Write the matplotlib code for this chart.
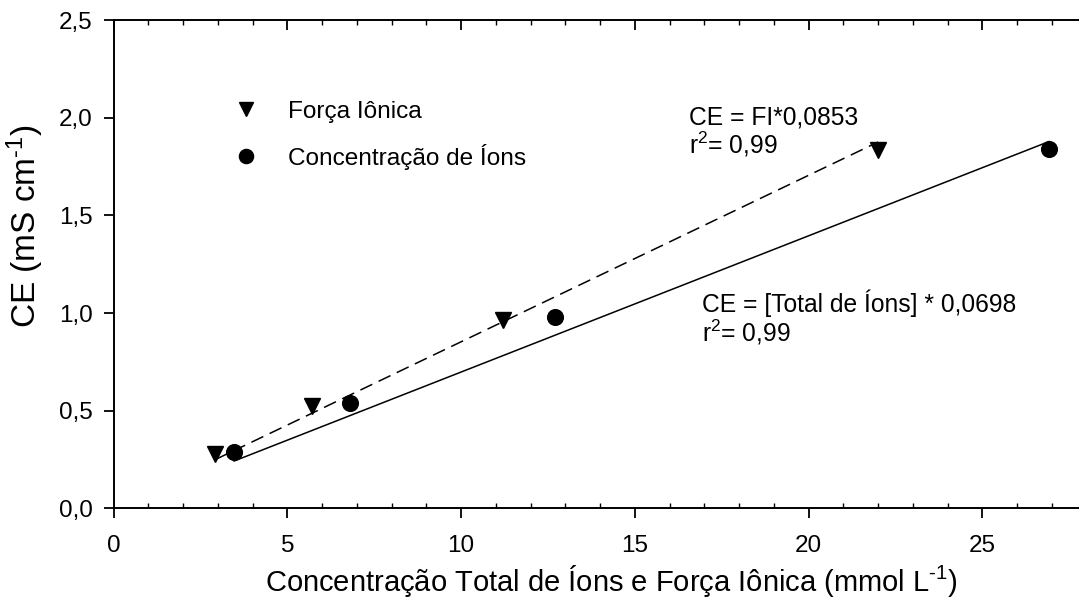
import numpy as np
import matplotlib
matplotlib.use('Agg')
import matplotlib.pyplot as plt
from matplotlib.ticker import MultipleLocator

plt.rcParams['font.family'] = ['Liberation Sans', 'DejaVu Sans']
plt.rcParams['mathtext.fontset'] = 'custom'
plt.rcParams['mathtext.rm'] = 'Liberation Sans'
plt.rcParams['mathtext.it'] = 'Liberation Sans:italic'
plt.rcParams['lines.scale_dashes'] = False

# forca ionica (mmol/L) x CE
fi_x = [2.92, 5.72, 11.2, 22.0]
fi_y = [0.278, 0.525, 0.965, 1.835]
# concentracao total de ions (mmol/L) x CE
ions_x = [3.47, 6.80, 12.7, 26.92]
ions_y = [0.287, 0.538, 0.98, 1.84]

coef_fi = 0.0853
coef_ions = 0.0698

yticks = [0.0, 0.5, 1.0, 1.5, 2.0, 2.5]
ytick_labels = ['0,0', '0,5', '1,0', '1,5', '2,0', '2,5']
xticks = [0, 5, 10, 15, 20, 25]
xtick_labels = ['0', '5', '10', '15', '20', '25']

fig = plt.figure(figsize=(10.79, 6.04), dpi=100)
ax = fig.add_axes([0.1053, 0.1585, 0.9018, 0.8079])

# retas ajustadas
xf = np.array([fi_x[0], fi_x[-1]])
xi = np.array([ions_x[0], ions_x[-1]])
ax.plot(xf, coef_fi * xf, color='black', lw=1.1, dashes=(9.5, 5.0))
ax.plot(xi, coef_ions * xi, color='black', lw=1.1)

ax.plot(fi_x, fi_y, linestyle='none', marker='v', ms=11.5, color='black',
        label='Força Iônica')
ax.plot(ions_x, ions_y, linestyle='none', marker='o', ms=11.3, color='black',
        label='Concentração de Íons')

ax.set_xlim(0, 28)
ax.set_ylim(0, 2.5)

ax.set_xticks(xticks)
ax.set_xticklabels(xtick_labels)
ax.xaxis.set_minor_locator(MultipleLocator(1))
ax.set_yticks(yticks)
ax.set_yticklabels(ytick_labels)

for side in ['top', 'right']:
    ax.spines[side].set_visible(False)
for side in ['left', 'bottom']:
    ax.spines[side].set_linewidth(1.4)

ax.tick_params(axis='x', which='major', direction='out', length=7, width=1.3,
               labelsize=17.5, pad=12.5)
ax.tick_params(axis='x', which='minor', direction='in', length=3.6, width=1.0)
ax.tick_params(axis='y', which='major', direction='out', length=7, width=1.3,
               labelsize=17.5, pad=8)

# eixo superior so com marcas para dentro
top = ax.secondary_xaxis('top')
top.set_xticks(xticks)
top.xaxis.set_minor_locator(MultipleLocator(1))
top.tick_params(axis='x', which='major', direction='in', length=7, width=1.3,
                labeltop=False)
top.tick_params(axis='x', which='minor', direction='in', length=3.6, width=1.0)
top.spines['top'].set_linewidth(1.4)

sup = r'$^{\text{-}1}$'
ax.set_xlabel('Concentração Total de Íons e Força Iônica (mmol L' + sup + ')',
              fontsize=21)
ax.xaxis.set_label_coords(0.512, -0.112)
ax.set_ylabel('CE (mS cm' + sup + ')', fontsize=24)
ax.yaxis.set_label_coords(-0.069, 0.578)

ax.legend(loc='upper left', bbox_to_anchor=(0.1235, 0.835), frameon=False,
          fontsize=17.6, handlelength=1.0, handletextpad=1.2,
          labelspacing=0.85, borderpad=0, borderaxespad=0, markerscale=0.9)

ax.text(16.56, 1.964, 'CE = FI*0,0853', fontsize=17.7, va='baseline')
ax.text(16.56, 1.815, 'r$^2$= 0,99', fontsize=17.7, va='baseline')
ax.text(16.92, 1.007, 'CE = [Total de Íons] * 0,0698', fontsize=17.7,
        va='baseline')
ax.text(16.92, 0.853, 'r$^2$= 0,99', fontsize=17.7, va='baseline')

fig.savefig('out.png', dpi=100)
